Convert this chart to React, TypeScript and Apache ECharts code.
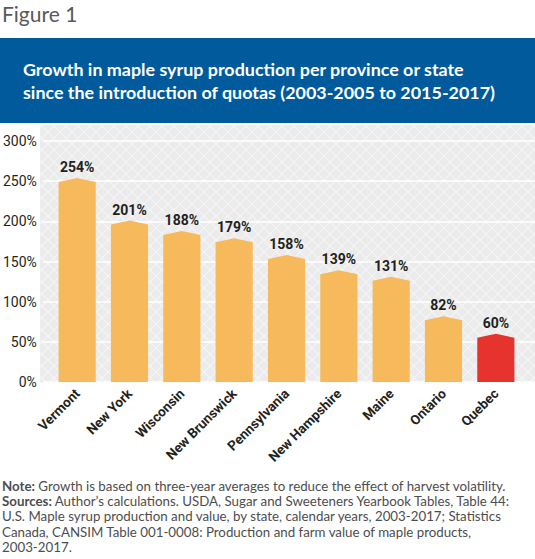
import React, { useEffect, useRef } from "react";
import * as echarts from "echarts";

const categories = [
  "Vermont",
  "New York",
  "Wisconsin",
  "New Brunswick",
  "Pennsylvania",
  "New Hampshire",
  "Maine",
  "Ontario",
  "Quebec",
];
const growth = [254, 201, 188, 179, 158, 139, 131, 82, 60];
const highlighted = "Quebec";
const yTicks = { min: 0, max: 300, interval: 50 };

const figureLabel = "Figure 1";
const titleLines = [
  "Growth in maple syrup production per province or state",
  "since the introduction of quotas (2003-2005 to 2015-2017)",
];
const noteLines = [
  ["Note:", " Growth is based on three-year averages to reduce the effect of harvest volatility."],
  ["Sources:", " Author’s calculations. USDA, Sugar and Sweeteners Yearbook Tables, Table 44:"],
  ["", "U.S. Maple syrup production and value, by state, calendar years, 2003-2017; Statistics"],
  ["", "Canada, CANSIM Table 001-0008: Production and farm value of maple products,"],
  ["", "2003-2017."],
];

const BAR = "#f6b95c";
const HIGHLIGHT = "#e6332d";
const INK = "#231f20";

function makePattern(): string {
  const c = document.createElement("canvas");
  c.width = 12;
  c.height = 12;
  const ctx = c.getContext("2d");
  if (!ctx) return "";
  ctx.fillStyle = "#ebebec";
  ctx.fillRect(0, 0, 12, 12);
  ctx.strokeStyle = "#f5f5f6";
  ctx.lineWidth = 1.2;
  ctx.beginPath();
  ctx.moveTo(0, 0);
  ctx.lineTo(12, 12);
  ctx.moveTo(12, 0);
  ctx.lineTo(0, 12);
  ctx.stroke();
  return c.toDataURL();
}

export default function App() {
  const ref = useRef<HTMLDivElement>(null);
  useEffect(() => {
    if (!ref.current) return;
    const chart = echarts.init(ref.current, undefined, { renderer: "svg" });
    const pattern = makePattern();
    const lineH = 15.4;
    const footer: any[] = noteLines.map((ln, i) => ({
      type: "text",
      left: 2,
      top: 479 + i * lineH,
      style: {
        text: (ln[0] ? `{b|${ln[0]}}` : "") + `{n|${ln[1]}}`,
        rich: {
          b: { fontFamily: "Lato", fontSize: 13.3, fontWeight: "bold", fill: "#4d4d4f" },
          n: { fontFamily: "Lato", fontSize: 13.3, fill: "#4d4d4f" },
        },
      },
    }));
    chart.setOption({
      animation: false,
      backgroundColor: "#ffffff",
      graphic: [
        {
          type: "text",
          left: 2,
          top: 3,
          style: { text: figureLabel, fontFamily: "Lato", fontSize: 21, fill: "#58595b" },
        },
        {
          type: "rect",
          shape: { x: 0, y: 38, width: 535, height: 85 },
          style: { fill: "#005a9b" },
        },
        ...titleLines.map((t, i) => ({
          type: "text",
          left: 23,
          top: 60 + i * 23,
          style: { text: t, fontFamily: "Lato", fontSize: 17.9, fontWeight: "bold", fill: "#ffffff" },
        })),
        {
          type: "rect",
          z: -10,
          shape: { x: 40, y: 125, width: 495, height: 258, r: 2 },
          style: { fill: pattern ? { image: pattern, repeat: "repeat" } : "#ebebec" },
        },
        ...footer,
      ],
      grid: [
        { left: 42, right: 0, top: 141, bottom: 177 },
        { left: 51, right: 13, top: 141, bottom: 177 },
      ],
      xAxis: [
        { gridIndex: 0, type: "value", show: false },
        {
          gridIndex: 1,
          type: "category",
          data: categories,
          axisLine: { show: false },
          axisTick: { show: false },
          axisLabel: {
            interval: 0,
            rotate: 45,
            margin: 9,
            fontFamily: "Roboto",
            fontWeight: "bold",
            fontSize: 13.5,
            color: INK,
          },
        },
      ],
      yAxis: [
        {
          gridIndex: 0,
          type: "value",
          ...yTicks,
          axisLine: { show: false },
          axisTick: { show: false },
          axisLabel: {
            formatter: "{value}%",
            fontFamily: "Roboto",
            fontSize: 14,
            color: INK,
            margin: 6,
          },
          splitLine: { lineStyle: { color: "#ffffff", width: 1.5 } },
        },
        {
          gridIndex: 1,
          type: "value",
          ...yTicks,
          show: false,
          splitLine: { show: false },
        },
      ],
      series: [
        {
          type: "custom",
          xAxisIndex: 1,
          yAxisIndex: 1,
          encode: { x: 0, y: 1 },
          data: growth.map((v, i) => [i, v]),
          renderItem: (params: any, api: any) => {
            const idx = api.value(0);
            const val = api.value(1);
            const top = api.coord([idx, val]);
            const base = api.coord([idx, 0]);
            const band = api.size([1, 0])[0];
            const hw = (band * 0.71) / 2;
            const cx = top[0];
            const drop = 4;
            const fill = categories[params.dataIndex] === highlighted ? HIGHLIGHT : BAR;
            return {
              type: "group",
              children: [
                {
                  type: "polygon",
                  shape: {
                    points: [
                      [cx - hw, base[1]],
                      [cx - hw, top[1] + drop],
                      [cx, top[1]],
                      [cx + hw, top[1] + drop],
                      [cx + hw, base[1]],
                    ],
                  },
                  style: { fill },
                },
                {
                  type: "text",
                  x: cx,
                  y: top[1] - 11,
                  style: {
                    text: `${val}%`,
                    align: "center",
                    verticalAlign: "middle",
                    fontFamily: "Roboto",
                    fontWeight: "bold",
                    fontSize: 14,
                    fill: INK,
                  },
                },
              ],
            };
          },
        },
      ],
    });
    return () => chart.dispose();
  }, []);
  return (
    <div
      ref={ref}
      style={{ position: "fixed", left: 0, top: 0, width: 535, height: 559 }}
    />
  );
}
